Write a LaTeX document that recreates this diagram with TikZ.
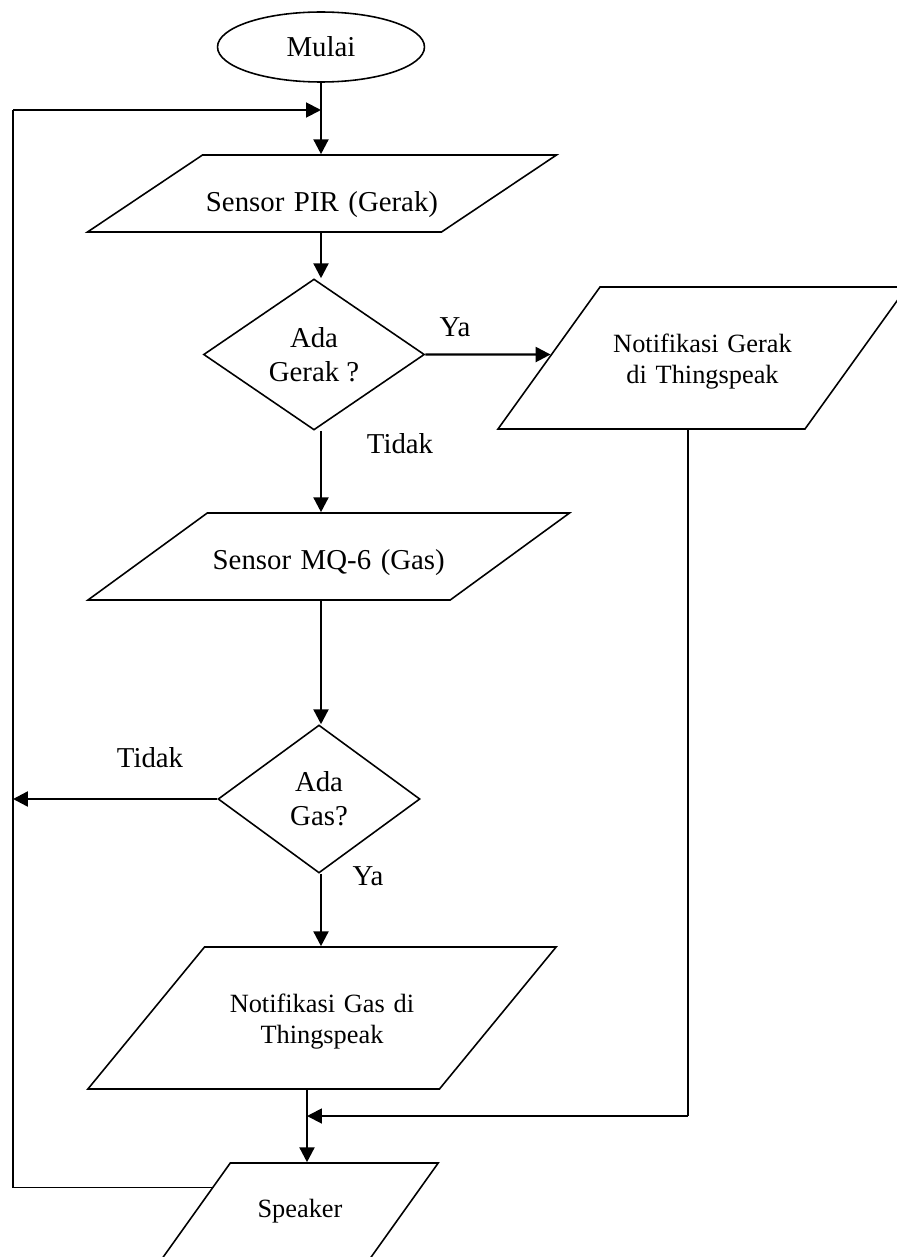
\documentclass[tikz,border=0pt]{standalone}
\usepackage{fontspec}
\setmainfont{Liberation Serif}
\usepackage{tikz}
\usetikzlibrary{arrows.meta,calc,shapes.geometric}

\tikzset{
  terminal/.style={draw, ellipse, line width=0.9pt, inner sep=0pt,
    minimum width=4.14cm, minimum height=1.4cm, font=\fontsize{16.4}{19.3}\selectfont},
  dataio/.style={draw, trapezium, line width=0.9pt, inner sep=0pt,
    trapezium left angle=#1, trapezium right angle=180-#1,
    align=center, font=\fontsize{16.4}{19.3}\selectfont},
  decision/.style={draw, diamond, aspect=1.46, line width=0.9pt, inner sep=0pt,
    align=center, font=\fontsize{16.4}{19.3}\selectfont},
  flow/.style={line width=1.4pt, -{Triangle[length=8.5pt,width=8.5pt]}},
  rail/.style={line width=1pt},
  lbl/.style={font=\fontsize{16.4}{19.3}\selectfont},
}

\begin{document}
\begin{tikzpicture}[x=0.02cm,y=-0.02cm]
\useasboundingbox (0,0) rectangle (896,1257);

% flow column and shapes
\coordinate (col) at (321,0);
\node[terminal] (start) at (321,47) {Mulai};
\node[dataio=33.8, text width=4.78cm, text height=1.14cm, text depth=0.40cm]
  (pir) at (322,193.5) {Sensor PIR (Gerak)};
\node[decision, minimum width=4.42cm, minimum height=3.02cm] (d1) at (314,354.5) {Ada\\Gerak ?};
\node[dataio=54.3, text width=4.10cm, text height=1.30cm, text depth=1.54cm,
  font=\fontsize{15}{18}\selectfont]
  (n1) at (702.5,358) {Notifikasi Gerak\\di Thingspeak};
\node[dataio=36.1, text width=4.86cm, text height=1.12cm, text depth=0.62cm]
  (mq) at (328.75,556.5) {Sensor MQ-6 (Gas)};
\node[decision, minimum width=4.04cm, minimum height=2.96cm] (d2) at (319,799) {Ada\\Gas?};
\node[dataio=50.6, text width=4.70cm, text height=1.30cm, text depth=1.54cm,
  font=\fontsize{15}{18}\selectfont]
  (n2) at (322,1018) {Notifikasi Gas di\\Thingspeak};
\node[dataio=54.5, text width=2.79cm, text height=1.08cm, text depth=0.84cm,
  font=\fontsize{15}{18}\selectfont]
  (spk) at (300,1211) {Speaker};

% helper points
\coordinate (merge) at (321,110);
\coordinate (rail) at (13,110);
\coordinate (join) at (307,1116);
\coordinate (gerakout) at (688,1116);
\coordinate (spkL) at ($(spk.top left corner)!0.26!(spk.bottom left corner)$);

% main flow
\draw[line width=1.4pt] (start.south) -- (merge);
\draw[flow] (merge) -- (col |- pir.north);
\draw[flow] (col |- pir.south) -- (col |- d1.north);
\draw[flow] (d1.east) -- (intersection of d1.east--d1.west and n1.top left corner--n1.bottom left corner);
\draw[flow] (col |- d1.south) -- (col |- mq.north);
\draw[flow] (col |- mq.south) -- (col |- d2.north);
\draw[flow] (col |- d2.south) -- (col |- n2.north);
\draw[flow] (d2.west) -- (d2.west -| rail);
\draw[flow] (join |- n2.south) -- (join |- spk.north);

% return lines
\draw[rail] (gerakout |- n1.south) -- (gerakout);
\draw[flow, line width=1.1pt] (gerakout) -- (join);
\draw[rail] (spkL) -| (rail);
\draw[flow, line width=1.1pt] (rail) -- (merge);

% labels
\node[lbl] (ya1) at (455,327) {Ya};
\node[lbl] (tidak1) at (400,444) {Tidak};
\node[lbl] (tidak2) at (150,758) {Tidak};
\node[lbl] (ya2) at (368,876) {Ya};
\end{tikzpicture}
\end{document}
